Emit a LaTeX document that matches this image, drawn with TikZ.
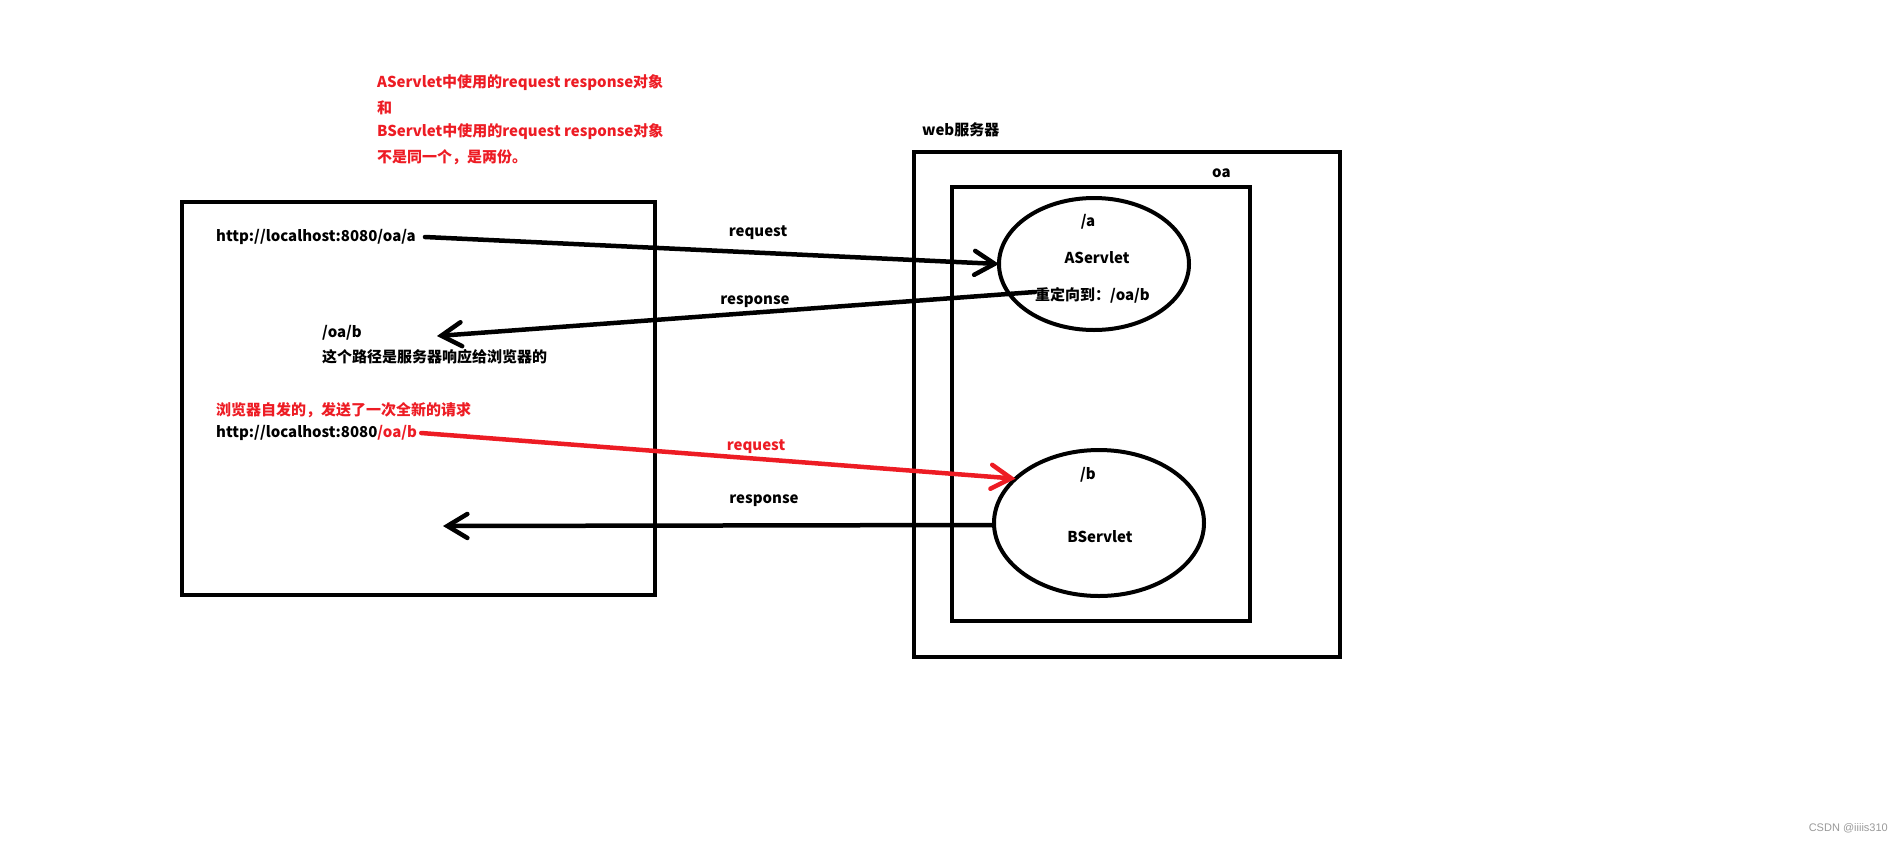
\documentclass[tikz,border=0pt]{standalone}
\usepackage{fontspec}
\setmainfont{Noto Sans CJK SC}
\newfontfamily\wmfont{Liberation Sans}
\usetikzlibrary{arrows.meta,shapes.geometric}
\definecolor{pred}{HTML}{ED1C24}
\tikzset{
  txt/.style={inner sep=0pt,anchor=west,font=\fontsize{15}{18}\selectfont\bfseries},
  ctxt/.style={inner sep=0pt,anchor=center,font=\fontsize{15}{18}\selectfont\bfseries},
  thick box/.style={draw,line width=4.5pt},
  servlet/.style={draw,ellipse,line width=4pt,inner sep=0pt,outer sep=0pt},
  arr/.style={line width=4.5pt,line cap=round,-{Straight Barb[length=20pt,width=24pt,line cap=round]}},
}
\begin{document}
\begin{tikzpicture}[x=1pt,y=-1pt]
\useasboundingbox (0,0) rectangle (1903,844);
% boxes
\draw[thick box] (182,202) rectangle (655,595);
\draw[thick box] (914,152) rectangle (1340,657);
\draw[thick box] (952,187) rectangle (1250,621);
\node[servlet,minimum width=190pt,minimum height=132pt] (ea) at (1094,264) {};
\node[servlet,minimum width=210pt,minimum height=146pt] (eb) at (1099,523) {};
% top red note
\node[txt,text=pred] (t1) at (377,83) {AServlet中使用的request response对象};
\node[txt,text=pred] (t2) at (377,108) {和};
\node[txt,text=pred] (t3) at (377,132) {BServlet中使用的request response对象};
\node[txt,text=pred] (t4) at (377,157) {不是同一个，是两份。};
% server labels
\node[txt] (web) at (922,130) {web服务器};
\node[txt] (oa) at (1212,173) {oa};
\node[ctxt] (sa) at (1088,222) {/a};
\node[ctxt] (an) at (1097,258) {AServlet};
\node[txt] (redir) at (1035,295) {重定向到：/oa/b};
\node[ctxt] (sb) at (1088,475) {/b};
\node[ctxt] (bn) at (1100,537) {BServlet};
% browser texts
\node[txt] (urla) at (216,237) {http://localhost:8080/oa/a};
\node[txt] (oab) at (322,333) {/oa/b};
\node[txt] (note) at (322,357) {这个路径是服务器响应给浏览器的};
\node[txt,text=pred] (auto) at (216,410) {浏览器自发的，发送了一次全新的请求};
\node[txt] (urlb) at (216,433) {http://localhost:8080{\color{pred}/oa/b}};
% arrow labels
\node[ctxt] (l1) at (758,233) {request};
\node[ctxt] (l2) at (755,302) {response};
\node[ctxt,text=pred] (l3) at (756,447) {request};
\node[ctxt] (l4) at (764,501) {response};
% connectors
\coordinate (r1end) at (437,336);
\coordinate (r2end) at (443,526);
\coordinate (b1start) at (992,525);
\draw[arr] ([xshift=9pt]urla.east) -- (ea.west);
\draw[arr] ([yshift=3pt]redir.west) -- (r1end);
\draw[arr,draw=pred] ([xshift=4pt]urlb.east) -- (eb.152);
\draw[arr] (b1start) -- (r2end);
% watermark
\node[inner sep=0pt,anchor=east,text=black!40,font=\wmfont\fontsize{11}{13}\selectfont] (wm) at (1888,828) {CSDN @iiiis310};
\end{tikzpicture}
\end{document}
